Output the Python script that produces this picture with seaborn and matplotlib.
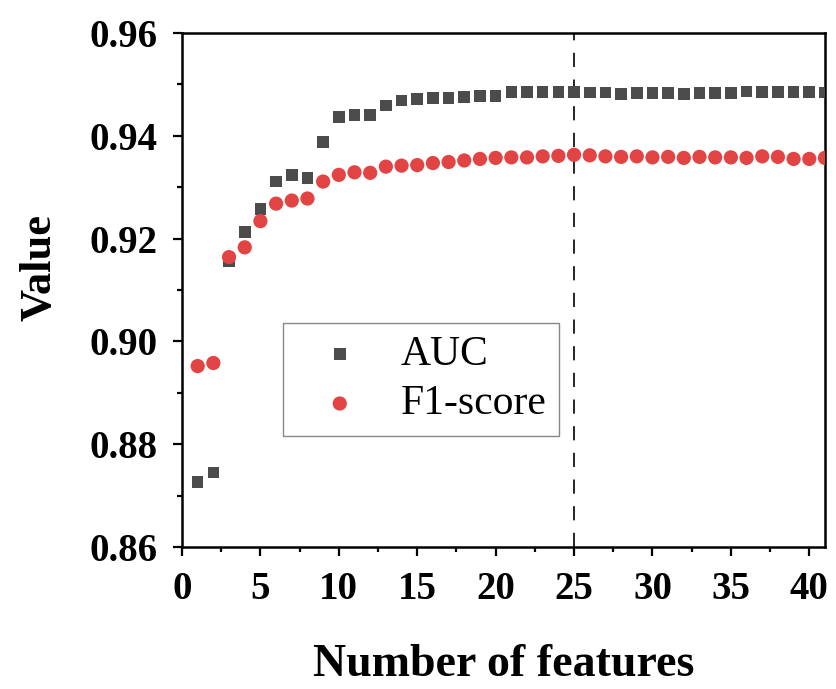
import numpy as np
import pandas as pd
import matplotlib
matplotlib.use("Agg")
import matplotlib.pyplot as plt
import seaborn as sns

# data
n_features = list(range(1, 42))
auc = [0.8727, 0.8745, 0.9157, 0.9213, 0.9258, 0.9311, 0.9324, 0.9318, 0.9388, 0.9437,
       0.9440, 0.9440, 0.9459, 0.9469, 0.9472, 0.9473, 0.9474, 0.9476, 0.9477, 0.9478,
       0.9485, 0.9485, 0.9485, 0.9485, 0.9485, 0.9484, 0.9484, 0.9481, 0.9483, 0.9483,
       0.9483, 0.9481, 0.9483, 0.9483, 0.9483, 0.9486, 0.9485, 0.9485, 0.9485, 0.9485,
       0.9484]
f1 = [0.8952, 0.8958, 0.9164, 0.9183, 0.9234, 0.9268, 0.9274, 0.9278, 0.9311, 0.9324,
      0.9329, 0.9328, 0.9340, 0.9342, 0.9343, 0.9347, 0.9349, 0.9352, 0.9355, 0.9357,
      0.9358, 0.9358, 0.9360, 0.9361, 0.9363, 0.9362, 0.9360, 0.9359, 0.9360, 0.9358,
      0.9359, 0.9357, 0.9359, 0.9358, 0.9358, 0.9357, 0.9360, 0.9359, 0.9355, 0.9355,
      0.9357]
x_ticks = [0, 5, 10, 15, 20, 25, 30, 35, 40]
y_ticks = [0.86, 0.88, 0.90, 0.92, 0.94, 0.96]
selected = 25

df = pd.DataFrame({"n": n_features, "AUC": auc, "F1-score": f1})

sns.set_theme(style="white")
plt.rcParams["font.family"] = ["Liberation Serif", "DejaVu Serif"]
plt.rcParams["text.color"] = "black"
plt.rcParams["axes.labelcolor"] = "black"
plt.rcParams["xtick.color"] = "black"
plt.rcParams["ytick.color"] = "black"

fig = plt.figure(figsize=(8.36, 6.89), dpi=100)
ax = fig.add_axes([0.2177, 0.2061, 0.7691, 0.7460])

sns.scatterplot(data=df, x="n", y="AUC", marker="s", s=70, color="#4b4b4b",
                edgecolor="none", label="AUC", ax=ax, zorder=3)
sns.scatterplot(data=df, x="n", y="F1-score", marker="o", s=105, color="#e24444",
                edgecolor="none", label="F1-score", ax=ax, zorder=3)

# dashed line at the selected number of features
ax.axvline(selected, color="black", lw=1.2, dashes=(8.5, 7.5), zorder=2)

ax.set_xlim(0, 41)
ax.set_ylim(0.86, 0.96)
ax.set_xticks(x_ticks)
ax.set_xticks(np.arange(2.5, 41, 5), minor=True)
ax.set_yticks(y_ticks)
ax.set_yticks([0.87, 0.89, 0.91, 0.93, 0.95], minor=True)
ax.set_yticklabels(["%.2f" % v for v in y_ticks])

ax.tick_params(which="major", direction="out", length=6.5, width=1.6,
               labelsize=28, pad=11, bottom=True, left=True, top=False, right=False)
ax.tick_params(which="minor", direction="out", length=3.5, width=1.6,
               bottom=True, left=True, top=False, right=False)
for lab in ax.get_xticklabels() + ax.get_yticklabels():
    lab.set_fontweight("bold")

for sp in ax.spines.values():
    sp.set_visible(True)
    sp.set_color("black")
    sp.set_linewidth(1.8)

ax.set_xlabel("Number of features", fontsize=33, fontweight="bold", labelpad=26)
ax.set_ylabel("Value", fontsize=32, fontweight="bold", labelpad=22)
ax.yaxis.label.set_y(0.543)

leg = ax.legend(loc="upper left", bbox_to_anchor=(0.1566, 0.4364), borderaxespad=0,
                fontsize=30, frameon=True, fancybox=False, framealpha=1,
                edgecolor="#888888", markerscale=1.0, handletextpad=0.39,
                borderpad=0.3, labelspacing=0.27, handlelength=2.14)
leg.get_frame().set_linewidth(1.0)

fig.savefig("out.png", dpi=100)
